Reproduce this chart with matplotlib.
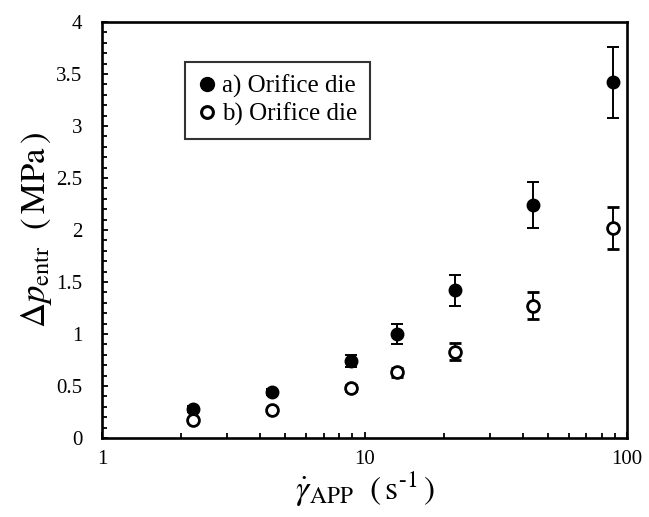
import matplotlib
matplotlib.use("Agg")
import matplotlib.pyplot as plt
from matplotlib.lines import Line2D
from matplotlib.ticker import MultipleLocator, FixedLocator, NullFormatter

plt.rcParams['font.family'] = ['Liberation Serif', 'DejaVu Serif']
plt.rcParams['mathtext.fontset'] = 'stix'

shear_rate = [2.22, 4.44, 8.9, 13.3, 22.1, 43.8, 88.4]
a_dp = [0.28, 0.44, 0.74, 1.00, 1.42, 2.24, 3.42]
a_err = [0.03, 0.03, 0.06, 0.10, 0.15, 0.22, 0.34]
b_dp = [0.17, 0.27, 0.48, 0.63, 0.83, 1.27, 2.02]
b_err = [0.02, 0.02, 0.03, 0.04, 0.08, 0.13, 0.20]
a_label = "a) Orifice die"
b_label = "b) Orifice die"
x_ticks = [1, 10, 100]
x_ticklabels = ["1", "10", "100"]
y_ticks = [0, 0.5, 1, 1.5, 2, 2.5, 3, 3.5, 4]
y_ticklabels = ["0", "0.5", "1", "1.5", "2", "2.5", "3", "3.5", "4"]

fig = plt.figure(figsize=(6.49, 5.17), dpi=100)
ax = fig.add_axes([102/649, 1-438/517, 525/649, 416/517])

ax.errorbar(shear_rate, a_dp, yerr=a_err, fmt='o', color='black', ms=9,
            mfc='black', mec='black', ecolor='black', elinewidth=1.4,
            capsize=4, capthick=1.4, zorder=3)
ax.errorbar(shear_rate, b_dp, yerr=b_err, fmt='o', color='black', ms=8.5,
            mfc='white', mec='black', mew=2, ecolor='black', elinewidth=1.4,
            capsize=4, capthick=1.4, zorder=3)

ax.set_xscale('log')
ax.set_xlim(1, 100)
ax.set_ylim(0, 4)
ax.xaxis.set_major_locator(FixedLocator(x_ticks))
ax.set_xticklabels(x_ticklabels)
ax.xaxis.set_minor_locator(FixedLocator([m * d for d in (1, 10) for m in range(2, 10)]))
ax.xaxis.set_minor_formatter(NullFormatter())
ax.set_yticks(y_ticks)
ax.set_yticklabels(y_ticklabels)
ax.yaxis.set_minor_locator(MultipleLocator(0.1))

ax.tick_params(which='both', direction='in', labelsize=15, width=1.3, color='black')
ax.tick_params(which='major', length=4)
ax.tick_params(which='minor', length=3.5)
ax.tick_params(axis='y', pad=14)
ax.tick_params(axis='x', pad=9)

for s in ax.spines.values():
    s.set_linewidth(1.9)

ax.set_ylabel(r'$\Delta p_{\mathrm{entr}}\ \ (\,\mathrm{MPa}\,)$', fontsize=25, labelpad=2)
ax.set_xlabel(r'$\dot{\gamma}_{\mathrm{APP}}\ \ (\,\mathrm{s}^{\text{-1}}\,)$', fontsize=24, labelpad=0)

handles = [
    Line2D([], [], ls='none', marker='o', ms=10, mfc='black', mec='black'),
    Line2D([], [], ls='none', marker='o', ms=8.5, mfc='white', mec='black', mew=2.2),
]
leg = ax.legend(handles, [a_label, b_label], loc='upper left',
                bbox_to_anchor=(0.158, 0.904), borderaxespad=0,
                fontsize=18, frameon=True, fancybox=False, handletextpad=0.2,
                handlelength=0.8, borderpad=0.5, labelspacing=0.2)
leg.get_frame().set_edgecolor('black')
leg.get_frame().set_linewidth(1.5)

fig.savefig('out.png', dpi=100)
